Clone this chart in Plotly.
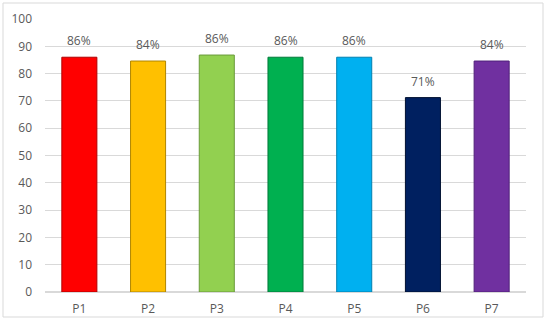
import plotly.graph_objects as go

categories = ["P1", "P2", "P3", "P4", "P5", "P6", "P7"]
values = [86, 84.6, 86.8, 86, 86, 71.2, 84.6]
labels = ["86%", "84%", "86%", "86%", "86%", "71%", "84%"]
colors = ["#FF0000", "#FFC000", "#92D050", "#00B050", "#00B0F0", "#002060", "#7030A0"]
edge_colors = ["#B00000", "#B08600", "#6A9A3A", "#007A3A", "#0080B0", "#001030", "#50207A"]
y_ticks = [0, 10, 20, 30, 40, 50, 60, 70, 80, 90, 100]

W, H = 546, 320
L, R, T, B = 45, 20, 19, 28
pw, ph = W - L - R, H - T - B

fig = go.Figure(go.Bar(
    x=categories, y=values,
    marker=dict(color=colors, line=dict(color=edge_colors, width=1)),
    width=0.51, cliponaxis=False,
))

annotations = [dict(x=c, y=v, text=t, showarrow=False, yanchor="bottom", yshift=6,
                    font=dict(family="Open Sans", size=12, color="#595959"))
               for c, v, t in zip(categories, values, labels)]

fig.update_layout(
    width=W, height=H, margin=dict(l=L, r=R, t=T, b=B, autoexpand=False),
    paper_bgcolor="white", plot_bgcolor="white", showlegend=False,
    font=dict(family="Open Sans", size=12, color="#595959"),
    xaxis=dict(showgrid=False, showline=False, ticks="", ticklabelstandoff=8, automargin=False),
    yaxis=dict(range=[0, 100], tickvals=y_ticks, showgrid=True, gridcolor="#D9D9D9",
               gridwidth=1, zeroline=True, zerolinecolor="#D9D9D9", showline=False,
               ticks="", ticklabelstandoff=12, automargin=False),
    annotations=annotations,
    shapes=[dict(type="rect", xref="paper", yref="paper",
                 x0=(3 - L) / pw, x1=(543 - L) / pw,
                 y0=(T + ph - 317) / ph, y1=(T + ph - 3) / ph,
                 line=dict(color="#D9D9D9", width=1), layer="below")],
)

fig.write_html("out.html")
